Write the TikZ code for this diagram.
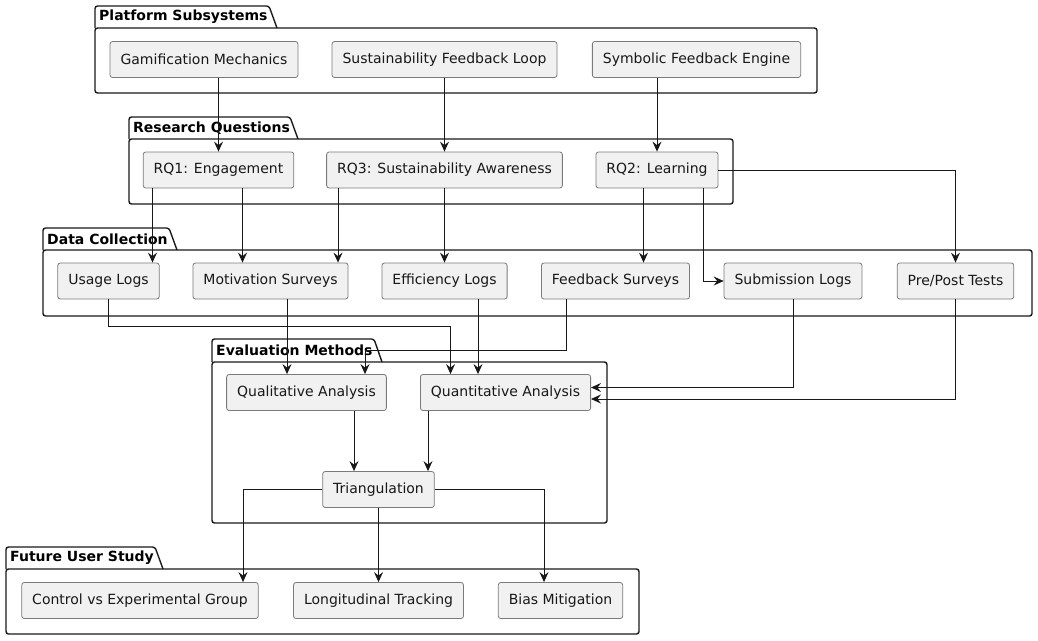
\documentclass[tikz,border=0pt]{standalone}
\usepackage{fontspec}
\setmainfont{DejaVu Sans}
\usetikzlibrary{arrows.meta}
\definecolor{boxfill}{HTML}{F1F1F1}
\definecolor{boxline}{HTML}{7A7A7A}
\definecolor{inkline}{HTML}{181818}
\tikzset{
    comp/.style = {draw = boxline, line width = 0.8pt, fill = boxfill, rounded corners = 2.5pt,
                   minimum height = 36pt, inner xsep = 10.5pt, inner ysep = 0pt,
                   font = \fontsize{14}{16}\selectfont, text = inkline},
    pkgline/.style = {draw = inkline, line width = 1.4pt, rounded corners = 2.5pt},
    pkgtitle/.style = {anchor = west, inner sep = 2pt, font = \fontsize{14}{16}\selectfont\bfseries, text = black},
    flow/.style = {draw = inkline, line width = 1pt, -{Stealth[length = 10pt, width = 9pt, inset = 3.5pt]}}
}
% package frame: x1, tab top, tab end, tab bottom, x2, bottom, title, name
\newcommand{\pkgframe}[8]{
    \draw[pkgline] (#1,#4) -- (#1,#2) -- ({#3-8},#2) -- (#3,#4);
    \draw[pkgline] (#1,#4) -- (#5,#4) -- (#5,#6) -- (#1,#6) -- cycle;
    \node[pkgtitle] (#8) at ({#1+2},{(#2+#4)/2}) {#7};
}
\begin{document}
\begin{tikzpicture}[x = 1pt, y = -1pt]
    \useasboundingbox (0,0) rectangle (1038,640);
    % packages
    \pkgframe{95}{6}{277}{28}{817}{93}{Platform Subsystems}{platform}
    \pkgframe{129}{117}{298}{139}{733}{204}{Research Questions}{research}
    \pkgframe{43}{228}{177}{250}{1032}{316}{Data Collection}{datacoll}
    \pkgframe{212}{339}{382}{362}{607}{523}{Evaluation Methods}{evalmeth}
    \pkgframe{6}{547}{163}{569}{639}{634}{Future User Study}{future}
    % platform subsystems
    \node[comp] (gam) at (204,59.5) {Gamification Mechanics};
    \node[comp] (sfl) at (444.5,59.5) {Sustainability Feedback Loop};
    \node[comp] (sfe) at (696.5,59.5) {Symbolic Feedback Engine};
    % research questions
    \node[comp] (rq1) at (218.5,170) {RQ1: Engagement};
    \node[comp] (rq3) at (444.5,170) {RQ3: Sustainability Awareness};
    \node[comp] (rq2) at (657,170) {RQ2: Learning};
    % data collection
    \node[comp] (usage) at (108.5,281) {Usage Logs};
    \node[comp] (motiv) at (270.5,281) {Motivation Surveys};
    \node[comp] (effic) at (444.5,281) {Efficiency Logs};
    \node[comp] (fbsurv) at (615.5,281) {Feedback Surveys};
    \node[comp] (subm) at (793,281) {Submission Logs};
    \node[comp] (prepost) at (955.5,281) {Pre/Post Tests};
    % evaluation methods
    \node[comp] (qual) at (306.5,392.5) {Qualitative Analysis};
    \node[comp] (quant) at (505.5,392.5) {Quantitative Analysis};
    \node[comp] (tri) at (378.5,489.5) {Triangulation};
    % future user study
    \node[comp] (ctrl) at (140,600.5) {Control vs Experimental Group};
    \node[comp] (longi) at (378.5,600.5) {Longitudinal Tracking};
    \node[comp] (bias) at (560.5,600.5) {Bias Mitigation};
    % subsystems to questions
    \draw[flow] (gam.south -| rq1.north) -- (rq1.north);
    \draw[flow] (sfl.south) -- (rq3.north);
    \draw[flow] (sfe.south -| rq2.north) -- (rq2.north);
    % questions to data
    \draw[flow] ([xshift = -66pt]rq1.south) -- ([xshift = 44pt]usage.north);
    \draw[flow] ([xshift = 24pt]rq1.south) -- ([xshift = -28pt]motiv.north);
    \draw[flow] ([xshift = -106.5pt]rq3.south) -- ([xshift = 67.5pt]motiv.north);
    \draw[flow] (rq3.south) -- (effic.north);
    \draw[flow] ([xshift = -13.5pt]rq2.south) -- ([xshift = 28pt]fbsurv.north);
    \draw[flow] ([xshift = 46pt]rq2.south) |- (subm.west);
    \draw[flow] (rq2.east) -| (prepost.north);
    % data to evaluation
    \draw[flow] (usage.south) -- ++(0,27) -| ([xshift = -55pt]quant.north);
    \draw[flow] ([xshift = 16.5pt]motiv.south) -- ([xshift = -19.5pt]qual.north);
    \draw[flow] ([xshift = 33.5pt]effic.south) -- ([xshift = -27.5pt]quant.north);
    \draw[flow] ([xshift = -49pt]fbsurv.south) -- ++(0,51) -| ([xshift = 58.5pt]qual.north);
    \draw[flow] (subm.south) |- ([yshift = 5pt]quant.east);
    \draw[flow] (prepost.south) |- ([yshift = -6.5pt]quant.east);
    % evaluation internals
    \draw[flow] ([xshift = 47.5pt]qual.south) -- ([xshift = -24.5pt]tri.north);
    \draw[flow] ([xshift = -77.5pt]quant.south) -- ([xshift = 49.5pt]tri.north);
    % evaluation to future study
    \draw[flow] (tri.west) -| ([xshift = 103pt]ctrl.north);
    \draw[flow] (tri.south) -- (longi.north);
    \draw[flow] (tri.east) -| ([xshift = -16.5pt]bias.north);
\end{tikzpicture}
\end{document}
